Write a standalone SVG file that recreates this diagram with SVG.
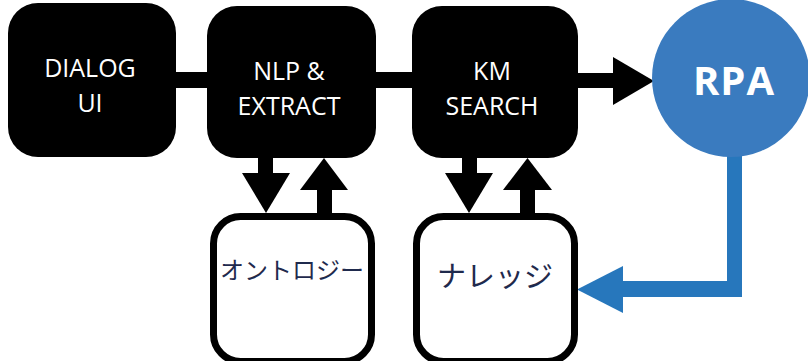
<svg xmlns="http://www.w3.org/2000/svg" width="808" height="361" viewBox="0 0 808 361">
<style>
.blk{fill:#000}
.wbox{fill:#fff;stroke:#000;stroke-width:7}
.lbl{font-family:"Open Sans","Liberation Sans",sans-serif;font-size:25px;fill:#fff;text-anchor:middle}
.jp{font-family:"Noto Sans CJK JP",sans-serif;fill:#1f2a4d;text-anchor:middle}
.blue{fill:#2777bc}
</style>
<rect width="808" height="361" fill="#fff"/>
<g id="connectors">
  <rect class="blk" x="170" y="72" width="45" height="16"/>
  <rect class="blk" x="370" y="72" width="48" height="16"/>
  <rect class="blk" x="570" y="73" width="45" height="15"/>
  <polygon class="blk" points="613,57 613,105 654,81"/>
  <rect class="blk" x="258" y="150" width="15" height="25"/>
  <polygon class="blk" points="242,173 290,173 266,213"/>
  <rect class="blk" x="317" y="188" width="15" height="28"/>
  <polygon class="blk" points="300,190 348,190 324,158"/>
  <rect class="blk" x="462" y="150" width="15" height="25"/>
  <polygon class="blk" points="445,173 493,173 469,213"/>
  <rect class="blk" x="520" y="188" width="15" height="28"/>
  <polygon class="blk" points="503,190 552,190 527.5,158"/>
  <path class="blue" d="M727,150 H742 V297 H621 V281 H727 Z"/>
  <polygon class="blue" points="623,266 623,313 577,289.5"/>
</g>
<g id="dialog">
  <rect class="blk" x="8" y="3" width="168" height="154" rx="30"/>
  <text class="lbl" x="90" y="77">DIALOG</text>
  <text class="lbl" x="90" y="112">UI</text>
</g>
<g id="nlp">
  <rect class="blk" x="207" y="6" width="169" height="152" rx="30"/>
  <text class="lbl" x="289" y="80">NLP &amp;</text>
  <text class="lbl" x="289" y="115">EXTRACT</text>
</g>
<g id="km">
  <rect class="blk" x="412" y="6" width="166" height="152" rx="30"/>
  <text class="lbl" x="492" y="80">KM</text>
  <text class="lbl" x="492" y="115">SEARCH</text>
</g>
<g id="rpa">
  <circle cx="731" cy="78" r="79" fill="#3a7bbf"/>
  <text x="734" y="95" font-family="'Open Sans','Liberation Sans',sans-serif" font-weight="bold" font-size="40" letter-spacing="1" fill="#fff" text-anchor="middle">RPA</text>
</g>
<g id="ontology">
  <rect class="wbox" x="213.5" y="216.5" width="158" height="145" rx="27"/>
  <text class="jp" x="292" y="279" font-size="24">オントロジー</text>
</g>
<g id="knowledge">
  <rect class="wbox" x="416.5" y="216.5" width="158" height="145" rx="27"/>
  <text class="jp" x="495" y="287" font-size="29">ナレッジ</text>
</g>
</svg>
